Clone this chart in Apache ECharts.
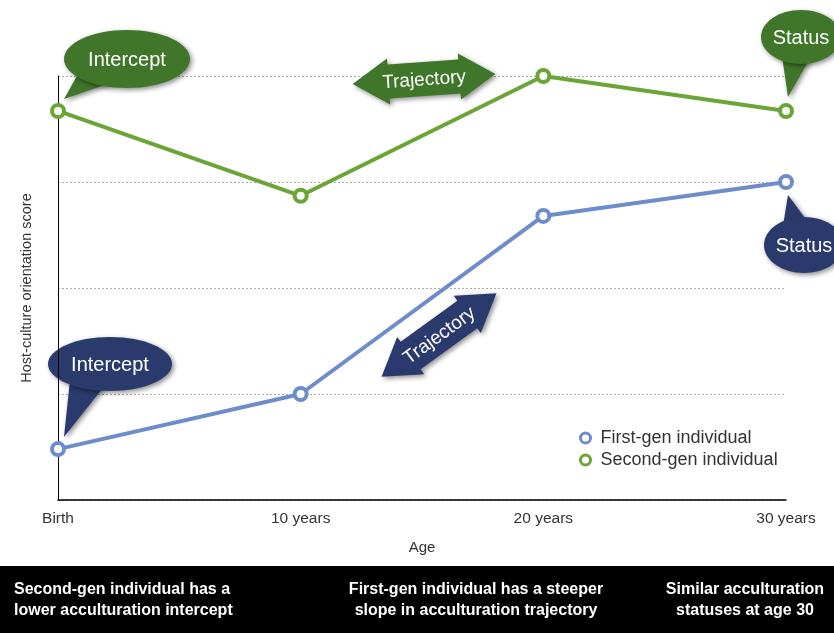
<!DOCTYPE html>
<html>
<head>
<meta charset="utf-8">
<script src="https://cdn.jsdelivr.net/npm/echarts@6/dist/echarts.min.js"></script>
<style>
  html, body { margin: 0; padding: 0; background: #fff; }
  #chart { width: 834px; height: 633px; }
</style>
</head>
<body>
<div id="chart"></div>
<script>
const ages = ["Birth", "10 years", "20 years", "30 years"];
const firstGen = [0.48, 1.0, 2.68, 3.0];
const secondGen = [3.67, 2.87, 4.0, 3.67];
const seriesNames = ["First-gen individual", "Second-gen individual"];
const captions = [
  "Second-gen individual has a\nlower acculturation intercept",
  "First-gen individual has a steeper\nslope in acculturation trajectory",
  "Similar acculturation\nstatuses at age 30",
];

const BLUE = "#6d8ccc";
const GREEN = "#6aa535";
const DARK_GREEN = "#3f7629";
const DARK_BLUE = "#2b3a6d";
const FONT = "'Liberation Sans', Arial, sans-serif";

const chart = echarts.init(document.getElementById("chart"), null, { renderer: "canvas" });

const shadow = {
  shadowBlur: 5,
  shadowColor: "rgba(0,0,0,0.45)",
  shadowOffsetX: 2,
  shadowOffsetY: 2,
};

// speech bubble: ellipse + triangle tail pointing at a data point
const bubble = (label, cx, cy, rx, ry, tail, color) => ({
  type: "group",
  children: [
    {
      type: "polygon",
      shape: { points: tail },
      style: Object.assign({ fill: color }, shadow),
    },
    {
      type: "ellipse",
      shape: { cx, cy, rx, ry },
      style: Object.assign({ fill: color }, shadow),
    },
    {
      type: "text",
      x: cx,
      y: cy + 1,
      style: {
        text: label,
        fill: "#fff",
        font: `20px ${FONT}`,
        align: "center",
        verticalAlign: "middle",
      },
    },
  ],
});

const doubleArrow = (cx, cy, len, angle, color) => {
  const H = 46, s = 34, hl = 36, h = len / 2;
  const points = [
    [-h, 0], [-h + hl, -H / 2], [-h + hl, -s / 2], [h - hl, -s / 2], [h - hl, -H / 2],
    [h, 0], [h - hl, H / 2], [h - hl, s / 2], [-h + hl, s / 2], [-h + hl, H / 2],
  ];
  return {
    type: "group",
    x: cx,
    y: cy,
    rotation: angle * Math.PI / 180,
    children: [
      {
        type: "polygon",
        shape: { points },
        style: Object.assign({ fill: color }, shadow),
      },
      {
        type: "text",
        x: 0,
        y: 1,
        style: {
          text: "Trajectory",
          fill: "#fff",
          font: `19px ${FONT}`,
          align: "center",
          verticalAlign: "middle",
        },
      },
    ],
  };
};

const lineSeries = (name, data, color) => ({
  name,
  type: "line",
  data,
  symbol: "circle",
  symbolSize: 12,
  lineStyle: { width: 4, color },
  itemStyle: { color: "#fff", borderColor: color, borderWidth: 4 },
  z: 3,
});

const option = {
  backgroundColor: "#fff",
  animation: false,
  grid: { left: 58, right: 48, top: 76, bottom: 133 },
  legend: {
    orient: "vertical",
    left: 574,
    top: 424,
    itemWidth: 20,
    itemHeight: 10,
    itemGap: 4,
    textStyle: { color: "#333", fontSize: 18, fontFamily: FONT },
    data: [
      { name: seriesNames[0], icon: "circle", itemStyle: { color: "#fff", borderColor: BLUE, borderWidth: 3 } },
      { name: seriesNames[1], icon: "circle", itemStyle: { color: "#fff", borderColor: GREEN, borderWidth: 3 } },
    ],
  },
  xAxis: {
    type: "category",
    data: ages,
    boundaryGap: false,
    name: "Age",
    nameLocation: "middle",
    nameGap: 40,
    nameTextStyle: { color: "#333", fontSize: 15, fontFamily: FONT },
    axisLine: { lineStyle: { color: "#000", width: 1.5 } },
    axisTick: { show: false },
    axisLabel: { color: "#333", fontSize: 15.5, fontFamily: FONT, margin: 11 },
  },
  yAxis: {
    type: "value",
    min: 0,
    max: 4,
    interval: 1,
    name: "Host-culture orientation score",
    nameLocation: "middle",
    nameGap: 24,
    nameTextStyle: { color: "#333", fontSize: 14.5, fontFamily: FONT },
    axisLine: { show: true, lineStyle: { color: "#000", width: 1 } },
    axisTick: { show: false },
    axisLabel: { show: false },
    splitLine: { lineStyle: { color: "#aaa", type: [2, 2], width: 1 } },
  },
  series: [
    lineSeries(seriesNames[0], firstGen, BLUE),
    lineSeries(seriesNames[1], secondGen, GREEN),
  ],
};

chart.setOption(option);

// anchor callouts on data points
const px = (i, v) => chart.convertToPixel({ gridIndex: 0 }, [i, v]);
const gB = px(0, secondGen[0]);
const bB = px(0, firstGen[0]);
const g30 = px(3, secondGen[3]);
const b30 = px(3, firstGen[3]);

const captionStyle = (text, align) => ({
  text, fill: "#fff", font: `bold 16px ${FONT}`,
  align, verticalAlign: "middle", lineHeight: 21,
});

const graphics = [
  bubble("Intercept", 127, 59, 63, 29,
    [[gB[0] + 6, gB[1] - 12], [gB[0] + 20, 74], [gB[0] + 55, 82]], DARK_GREEN),
  bubble("Intercept", 110, 364, 62, 27,
    [[bB[0] + 6, bB[1] - 12], [bB[0] + 12, 380], [bB[0] + 48, 384]], DARK_BLUE),
  bubble("Status", 801, 37, 40, 27,
    [[g30[0] + 2, g30[1] - 14], [g30[0] - 4, 56], [g30[0] + 24, 58]], DARK_GREEN),
  bubble("Status", 804, 245, 40, 28,
    [[b30[0] + 2, b30[1] + 13], [b30[0] - 4, 232], [b30[0] + 22, 222]], DARK_BLUE),
  doubleArrow(424, 79, 143, 4, DARK_GREEN),
  doubleArrow(439, 335, 142, 36, DARK_BLUE),
  {
    type: "rect",
    shape: { x: 0, y: 566, width: 834, height: 67 },
    style: { fill: "#000" },
  },
  { type: "text", x: 14, y: 600, style: captionStyle(captions[0], "left") },
  { type: "text", x: 476, y: 600, style: captionStyle(captions[1], "center") },
  { type: "text", x: 745, y: 600, style: captionStyle(captions[2], "center") },
];

chart.setOption({ graphic: graphics });
</script>
</body>
</html>
